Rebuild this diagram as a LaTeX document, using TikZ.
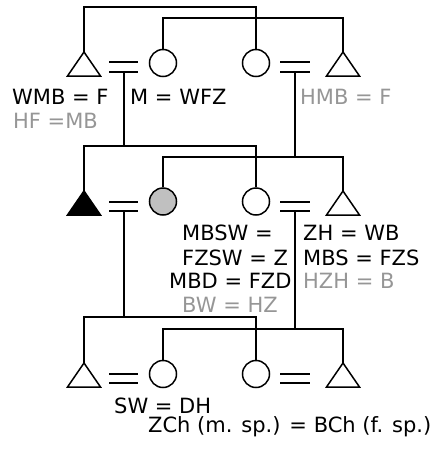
\documentclass[tikz,border=0pt]{standalone}
\usepackage{fontspec}
\setmainfont{DejaVu Sans}
\begin{document}
\begin{tikzpicture}[x=1pt,y=-1pt,
  ln/.style={line width=1.5pt,line cap=butt,line join=miter},
  circ/.style={circle,draw,line width=1.5pt,minimum size=27pt,inner sep=0pt,fill=white},
  lbl/.style={anchor=base west,inner sep=0pt,font=\fontsize{21}{24}\selectfont,text=black},
  glbl/.style={lbl,text=lightgr}]
\definecolor{lightgr}{RGB}{150,150,150}
\definecolor{silver}{RGB}{192,192,192}
\useasboundingbox (0,0) rectangle (440,450);

% ---- Row 1 ----
\coordinate (t11) at (84,52);
\node[circ] (c11) at (163,63) {};
\node[circ] (c12) at (256,63) {};
\coordinate (t12) at (343,52);
\draw[ln] (t11) -- ++(16.5,24) -- ++(-33,0) -- cycle;
\draw[ln] (t12) -- ++(16.5,24) -- ++(-33,0) -- cycle;
\draw[ln] (109,62) -- (138,62) (109,72) -- (138,72);
\draw[ln] (280,62) -- (310,62) (280,72) -- (310,72);
\coordinate (m11) at (124,72);
\coordinate (m12) at (295,72);

% ---- Row 2 ----
\coordinate (t21) at (84,191);
\node[circ,fill=silver] (c21) at (163,201.5) {};
\node[circ] (c22) at (256,201.5) {};
\coordinate (t22) at (343,191);
\draw[ln,fill=black] (t21) -- ++(16.5,24) -- ++(-33,0) -- cycle;
\draw[ln] (t22) -- ++(16.5,24) -- ++(-33,0) -- cycle;
\draw[ln] (109,202) -- (138,202) (109,211) -- (138,211);
\draw[ln] (280,202) -- (310,202) (280,211) -- (310,211);
\coordinate (m21) at (124,211);
\coordinate (m22) at (295,211);

% ---- Row 3 ----
\coordinate (t31) at (84,363);
\node[circ] (c31) at (163,374) {};
\node[circ] (c32) at (256,374) {};
\coordinate (t32) at (343,363);
\draw[ln] (t31) -- ++(16.5,24) -- ++(-33,0) -- cycle;
\draw[ln] (t32) -- ++(16.5,24) -- ++(-33,0) -- cycle;
\draw[ln] (109,374) -- (138,374) (109,383) -- (138,383);
\draw[ln] (280,374) -- (310,374) (280,383) -- (310,383);

% ---- Sibling links (top) ----
\draw[ln] (t11) -- (84,7) -| (c12.north);
\draw[ln] (c11.north) -- (163,18) -| (t12);

% ---- Descent row1 -> row2 ----
\draw[ln] (m11) -- (124,146);
\draw[ln] (t21) -- (84,146) -| (c22.north);
\draw[ln] (m12) -- (295,157);
\draw[ln] (c21.north) -- (163,157) -| (t22);

% ---- Descent row2 -> row3 ----
\draw[ln] (m21) -- (124,317);
\draw[ln] (t31) -- (84,317) -| (c32.north);
\draw[ln] (m22) -- (295,329);
\draw[ln] (c31.north) -- (163,329) -| (t32);

% ---- Labels ----
\node[lbl] (l1) at (12,104) {WMB = F};
\node[lbl] (l2) at (130,104) {M = WFZ};
\node[glbl] (l3) at (300,104) {HMB = F};
\node[glbl] (l4) at (13,128) {HF =MB};

\node[lbl] (l5) at (182,240) {MBSW =};
\node[lbl] (l6) at (182,265) {FZSW = Z};
\node[lbl] (l7) at (169,288) {MBD = FZD};
\node[glbl] (l8) at (182,312) {BW = HZ};
\node[lbl] (l9) at (303,240) {ZH = WB};
\node[lbl] (l10) at (303,265) {MBS = FZS};
\node[glbl] (l11) at (303,288) {HZH = B};

\node[lbl] (l12) at (114,413) {SW = DH};
\node[lbl] (l13) at (148,432) {ZCh (m. sp.) = BCh (f. sp.)};
\end{tikzpicture}
\end{document}
